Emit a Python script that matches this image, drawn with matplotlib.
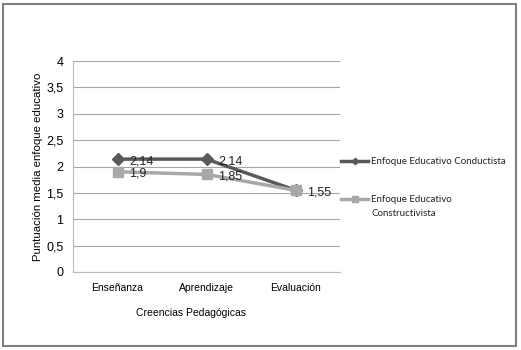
import matplotlib
matplotlib.use("Agg")
import matplotlib.pyplot as plt
from matplotlib.patches import Rectangle

categories = ["Enseñanza", "Aprendizaje", "Evaluación"]
conductista = [2.14, 2.14, 1.55]
constructivista = [1.9, 1.85, 1.55]
series_names = ["Enfoque Educativo Conductista", "Enfoque Educativo Constructivista"]
yticks = [0, 0.5, 1, 1.5, 2, 2.5, 3, 3.5, 4]

plt.rcParams['font.family'] = ['Liberation Sans', 'DejaVu Sans']

W, H = 521, 350
fig = plt.figure(figsize=(W/100, H/100), dpi=100)
ax = fig.add_axes([73/W, 1-272/H, (340-73)/W, (272-61)/H])

x = list(range(len(categories)))
l1, = ax.plot(x, conductista, color="#595959", lw=2.5, marker="D", ms=6, zorder=3)
l2, = ax.plot(x, constructivista, color="#a8a8a8", lw=2.5, marker="s", ms=7.5, zorder=4)

def fmt(v):
    s = f"{v:g}"
    return s.replace(".", ",")

for xi, v in zip(x, conductista):
    if xi < 2:
        ax.annotate(fmt(v), (xi, v), xytext=(8.5, -1.5), textcoords="offset points",
                    ha="left", va="center", fontsize=9, color="#222222", zorder=5)
for xi, v in zip(x, constructivista):
    ax.annotate(fmt(v), (xi, v), xytext=(8.5, -1.5), textcoords="offset points",
                ha="left", va="center", fontsize=9, color="#222222", zorder=5)

ax.set_xlim(-0.5, 2.5)
ax.set_ylim(0, 4)
ax.set_yticks(yticks)
ax.set_yticklabels([fmt(t) for t in yticks], fontsize=9)
ax.set_xticks(x)
ax.set_xticklabels(categories, fontsize=7.5)
ax.tick_params(length=0, pad=7)
ax.tick_params(axis='x', pad=8)
ax.grid(axis='y', color="#a6a6a6", lw=0.8)
ax.set_axisbelow(True)
for s in ["top", "right"]:
    ax.spines[s].set_visible(False)
for s in ["left", "bottom"]:
    ax.spines[s].set_color("#bcbcbc")
    ax.spines[s].set_linewidth(0.8)

ax.set_ylabel("Puntuación media enfoque educativo", fontsize=8.2)
ax.yaxis.set_label_coords((43-73)/267, 0.5)
ax.set_xlabel("Creencias Pedagógicas", fontsize=7.5)
ax.xaxis.set_label_coords((191-73)/267, -(308-272)/211)

leg_font = {'family': 'Lato', 'size': 7}
leg1 = fig.legend([l1], [series_names[0]], loc="center left",
                  bbox_to_anchor=(338/W, 1-162/H), frameon=False, prop=leg_font,
                  handlelength=2.8, handletextpad=0.25, markerscale=0.55,
                  borderaxespad=0, borderpad=0.3, labelcolor="#222222")
leg2 = fig.legend([l2], ["Enfoque Educativo"], loc="center left",
                  bbox_to_anchor=(338/W, 1-200/H), frameon=False, prop=leg_font,
                  handlelength=2.8, handletextpad=0.25, markerscale=0.55,
                  borderaxespad=0, borderpad=0.3, labelcolor="#222222")
fig.text(372/W, 1-213/H, "Constructivista", fontfamily='Lato', fontsize=7,
         ha="left", va="center", color="#222222")

fig.patches.append(Rectangle((3/W, 1-345.5/H), (515.5-3)/W, (345.5-4)/H,
                             transform=fig.transFigure, fill=False,
                             edgecolor="#808080", lw=1.5))

fig.savefig("out.png", dpi=100)
